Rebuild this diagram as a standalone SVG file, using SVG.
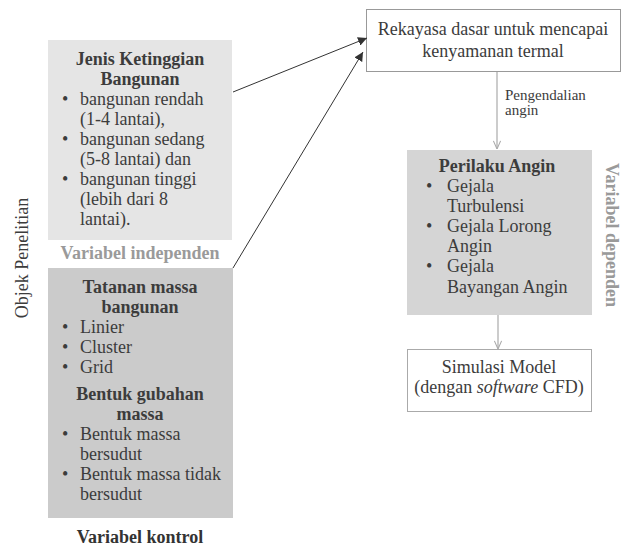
<svg xmlns="http://www.w3.org/2000/svg" width="623" height="548" viewBox="0 0 623 548">
<defs>
<marker id="tri" viewBox="0 0 10 10" refX="10" refY="5" markerWidth="9" markerHeight="9" markerUnits="userSpaceOnUse" orient="auto">
<path d="M0,0 L10,5 L0,10 z" fill="#333"/>
</marker>
<marker id="vee" viewBox="0 0 10 10" refX="10" refY="5" markerWidth="9" markerHeight="9" markerUnits="userSpaceOnUse" orient="auto">
<path d="M1,1 L10,5 L1,9" fill="none" stroke="#aaa" stroke-width="1.2"/>
</marker>
<style>
text{font-family:"Liberation Serif","Times New Roman",serif;font-size:18px;fill:#3c3c3c}
.b{font-weight:bold}
.c{text-anchor:middle}
.lbl{font-weight:bold;fill:#9a9a9a}
.sm{font-size:15px}
.dk{stroke:#333;stroke-width:1;fill:none}
.lt{stroke:#aaa;stroke-width:1.2;fill:none}
</style>
</defs>
<rect width="623" height="548" fill="#fff"/>

<g id="objek">
<text transform="translate(28,258) rotate(-90)" class="c">Objek Penelitian</text>
</g>

<g id="jenis">
<rect x="48" y="40" width="184" height="200" fill="#e5e5e5"/>
<text x="140" y="65" class="b c">Jenis Ketinggian</text>
<text x="140" y="85" class="b c">Bangunan</text>
<text x="62" y="105">•</text><text x="80" y="105">bangunan rendah</text>
<text x="80" y="125">(1-4 lantai),</text>
<text x="62" y="145">•</text><text x="80" y="145">bangunan sedang</text>
<text x="80" y="165">(5-8 lantai) dan</text>
<text x="62" y="185">•</text><text x="80" y="185">bangunan tinggi</text>
<text x="80" y="205">(lebih dari 8</text>
<text x="80" y="225">lantai).</text>
</g>
<g id="label-independen">
<text x="140" y="259" class="lbl c">Variabel independen</text>
</g>

<g id="tatanan">
<rect x="48" y="268" width="185" height="250" fill="#cbcbcb"/>
<text x="140" y="293" class="b c">Tatanan massa</text>
<text x="140" y="313" class="b c">bangunan</text>
<text x="62" y="333">•</text><text x="80" y="333">Linier</text>
<text x="62" y="353">•</text><text x="80" y="353">Cluster</text>
<text x="62" y="373">•</text><text x="80" y="373">Grid</text>
<text x="140" y="400" class="b c">Bentuk gubahan</text>
<text x="140" y="420" class="b c">massa</text>
<text x="62" y="440">•</text><text x="80" y="440">Bentuk massa</text>
<text x="80" y="460">bersudut</text>
<text x="62" y="480">•</text><text x="80" y="480">Bentuk massa tidak</text>
<text x="80" y="500">bersudut</text>
</g>
<g id="label-kontrol">
<text x="140" y="543" class="b c" style="fill:#333">Variabel kontrol</text>
</g>

<g id="rekayasa">
<rect x="366.5" y="9.5" width="254" height="62" fill="#fff" stroke="#999" stroke-width="1"/>
<text x="493" y="35" class="c">Rekayasa dasar untuk mencapai</text>
<text x="493" y="57" class="c">kenyamanan termal</text>
</g>

<g id="perilaku">
<rect x="407" y="150" width="185" height="165" fill="#d5d5d5"/>
<text x="497" y="172" class="b c">Perilaku Angin</text>
<text x="426" y="192">•</text><text x="447" y="192">Gejala</text>
<text x="447" y="212">Turbulensi</text>
<text x="426" y="232">•</text><text x="447" y="232">Gejala Lorong</text>
<text x="447" y="252">Angin</text>
<text x="426" y="272">•</text><text x="447" y="272">Gejala</text>
<text x="447" y="293">Bayangan Angin</text>
</g>
<g id="label-dependen">
<text transform="translate(606,235) rotate(90)" class="lbl c">Variabel dependen</text>
</g>

<g id="simulasi">
<rect x="407.5" y="349.5" width="184" height="62" fill="#fff" stroke="#aaa" stroke-width="1"/>
<text x="499" y="373" class="c">Simulasi Model</text>
<text x="499" y="393" class="c">(dengan <tspan font-style="italic">software</tspan> CFD)</text>
</g>

<g id="connectors">
<line x1="233" y1="92" x2="367" y2="38" class="dk" marker-end="url(#tri)"/>
<line x1="233" y1="268" x2="363" y2="52" class="dk" marker-end="url(#tri)"/>
<line x1="497" y1="72" x2="497" y2="149" class="lt" marker-end="url(#vee)"/>
<line x1="498" y1="315" x2="498" y2="349" class="lt" marker-end="url(#vee)"/>
<text x="505" y="100" class="sm">Pengendalian</text>
<text x="505" y="115" class="sm">angin</text>
</g>
</svg>
